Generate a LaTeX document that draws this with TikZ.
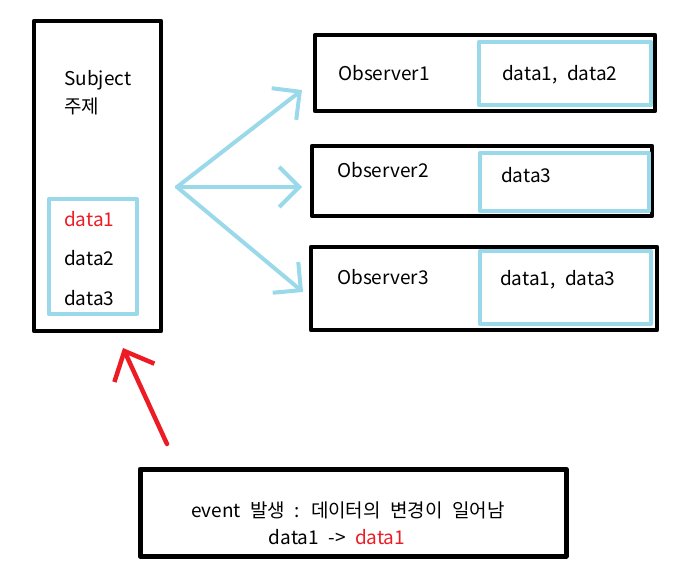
\documentclass[tikz,border=0pt]{standalone}
\usepackage{fontspec}
\setmainfont{Noto Sans CJK KR}
\usepackage{tikz}
\usetikzlibrary{arrows.meta}
\definecolor{paintcyan}{RGB}{153,217,234}
\definecolor{paintred}{RGB}{237,28,36}
\newcommand{\widegap}{\spaceskip=0.5em\relax}

\begin{document}
\begin{tikzpicture}[line cap=round,line join=round,x=1pt,y=-1pt,
    blackbox/.style={draw=black,line width=4.5pt,rectangle,inner sep=0pt},
    cyanbox/.style={draw=paintcyan,line width=4pt,rectangle,inner sep=0pt},
    label/.style={anchor=west,inner sep=0pt,font=\fontsize{19}{22}\selectfont,execute at begin node=\widegap},
    notify/.style={draw=paintcyan,line width=4pt,-{Straight Barb[length=20pt,width=40pt]}},
    trigger/.style={draw=paintred,line width=4.5pt,-{Straight Barb[length=24pt,width=44pt]}}]
        \useasboundingbox (0,0) rectangle (693,578);
        % subject
        \node[blackbox,minimum width=127pt,minimum height=310pt] (subject) at (97.5,176) {};
        \node[label] (subjname) at (64,80) {Subject};
        \node[label] (subjkor) at (64,106) {주제};
        \node[cyanbox,minimum width=88.5pt,minimum height=115pt] (subjdata) at (92.75,256.5) {};
        \node[label,text=paintred] (d1) at (64,219) {data1};
        \node[label] (d2) at (64,258) {data2};
        \node[label] (d3) at (64,298) {data3};
        % observers
        \node[blackbox,minimum width=340pt,minimum height=76pt] (obs1) at (485,73) {};
        \node[cyanbox,minimum width=172pt,minimum height=63pt] (obs1data) at (565,73.5) {};
        \node[label] (obs1name) at (338,73) {Observer1};
        \node[label] (obs1txt) at (502,75) {data1, data2};
        \node[blackbox,minimum width=340pt,minimum height=70pt] (obs2) at (482,181) {};
        \node[cyanbox,minimum width=169pt,minimum height=58pt] (obs2data) at (564.5,182) {};
        \node[label] (obs2name) at (337,170) {Observer2};
        \node[label] (obs2txt) at (501,175) {data3};
        \node[blackbox,minimum width=346pt,minimum height=83pt] (obs3) at (484,288.5) {};
        \node[cyanbox,minimum width=171pt,minimum height=73pt] (obs3data) at (565.5,287.5) {};
        \node[label] (obs3name) at (337,277) {Observer3};
        \node[label] (obs3txt) at (500,280) {data1, data3};
        % event
        \node[blackbox,line width=5pt,minimum width=426pt,minimum height=87pt] (event) at (353,512.5) {};
        \node[label,anchor=center] (eventtxt) at (348,510) {event 발생 : 데이터의 변경이 일어남};
        \node[label,anchor=center] (changetxt) at (337,537) {data1 -> \textcolor{paintred}{data1}};
        % arrows
        \coordinate (hub) at (177,187);
        \coordinate (tip1) at (302,90);
        \coordinate (tip2) at (302,187);
        \coordinate (tip3) at (303,292);
        \draw[notify] (hub) -- (tip1);
        \draw[notify] (hub) -- (tip2);
        \draw[notify] (hub) -- (tip3);
        \coordinate (evtail) at (167,444);
        \coordinate (evtip) at (123,348);
        \draw[trigger] (evtail) -- (evtip);
\end{tikzpicture}
\end{document}
